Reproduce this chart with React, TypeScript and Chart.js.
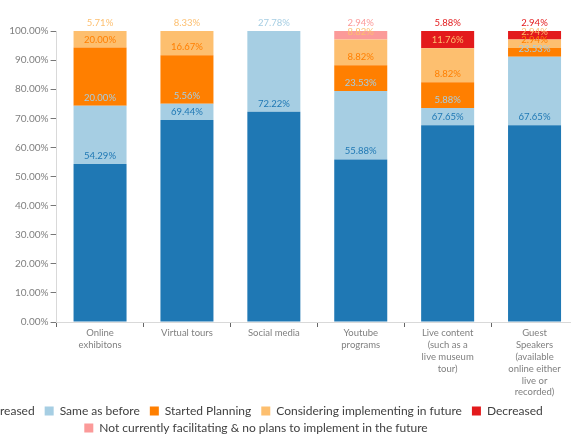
import React, { useEffect, useRef } from "react";
import { Chart, registerables } from "chart.js";

Chart.register(...registerables);

const categories: (string | string[])[] = [
  ["Online", "exhibitons"],
  "Virtual tours",
  "Social media",
  ["Youtube", "programs"],
  ["Live content", "(such as a", "live museum", "tour)"],
  ["Guest", "Speakers", "(available", "online either", "live or", "recorded)"],
];

const seriesNames = [
  "Increased",
  "Same as before",
  "Started Planning",
  "Considering implementing in future",
  "Decreased",
  "Not currently facilitating & no plans to implement in the future",
];

const increased = [54.29, 69.44, 72.22, 55.88, 67.65, 67.65];
const sameAsBefore = [20.0, 5.56, 27.78, 23.53, 5.88, 23.53];
const startedPlanning = [20.0, 16.67, 0, 8.82, 8.82, 2.94];
const considering = [5.71, 8.33, 0, 8.82, 11.76, 2.94];
const decreased = [0, 0, 0, 0, 5.88, 2.94];
const notCurrently = [0, 0, 0, 2.94, 0, 0];

const seriesValues = [increased, sameAsBefore, startedPlanning, considering, decreased, notCurrently];
const seriesColors = ["#1f78b4", "#a6cee3", "#ff7f00", "#fdbf6f", "#e31a1c", "#fb9a99"];

const yTickValues = [0, 10, 20, 30, 40, 50, 60, 70, 80, 90, 100];

const FONT = "Lato, 'Open Sans', sans-serif";

// value labels just above the top of each segment, in the series colour
const valueLabels = {
  id: "valueLabels",
  afterDatasetsDraw(chart: any) {
    const ctx = chart.ctx;
    ctx.save();
    ctx.font = `9.5px ${FONT}`;
    ctx.textAlign = "center";
    ctx.textBaseline = "middle";
    chart.data.datasets.forEach((ds: any, i: number) => {
      const meta = chart.getDatasetMeta(i);
      meta.data.forEach((bar: any, j: number) => {
        const v = ds.data[j];
        if (!v) return;
        ctx.fillStyle = ds.backgroundColor;
        ctx.fillText(`${v.toFixed(2)}%`, bar.x, bar.y - 8);
      });
    });
    ctx.restore();
  },
};

const bottomLegend = {
  id: "bottomLegend",
  afterDraw(chart: any) {
    const ctx = chart.ctx;
    const fontSize = 12;
    const box = 9;
    const gapText = 6;
    const gapItem = 10;
    ctx.save();
    ctx.font = `${fontSize}px ${FONT}`;
    const items = chart.data.datasets.map((ds: any) => ({
      text: ds.label,
      color: ds.backgroundColor,
      w: box + gapText + ctx.measureText(ds.label).width,
    }));
    const maxW = chart.width;
    const rows: any[][] = [[]];
    let cur = 0;
    items.forEach((it: any) => {
      const add = (rows[rows.length - 1].length ? gapItem : 0) + it.w;
      if (cur + add > maxW && rows[rows.length - 1].length) {
        rows.push([it]);
        cur = it.w;
      } else {
        rows[rows.length - 1].push(it);
        cur += add;
      }
    });
    const rowYs = [chart.height - 27, chart.height - 10];
    ctx.textBaseline = "middle";
    ctx.textAlign = "left";
    rows.forEach((row, r) => {
      const total = row.reduce((s, it) => s + it.w, 0) + gapItem * (row.length - 1);
      let x = chart.width / 2 - total / 2;
      const y = rowYs[r] ?? rowYs[rowYs.length - 1] + 17 * (r - 1);
      row.forEach((it) => {
        ctx.fillStyle = it.color;
        ctx.fillRect(x, y - box / 2, box, box);
        ctx.fillStyle = "#404040";
        ctx.fillText(it.text, x + box + gapText, y + 0.5);
        x += it.w + gapItem;
      });
    });
    ctx.restore();
  },
};

export default function App() {
  const canvasRef = useRef<HTMLCanvasElement | null>(null);

  useEffect(() => {
    if (!canvasRef.current) return;
    const chart = new Chart(canvasRef.current, {
      type: "bar",
      data: {
        labels: categories,
        datasets: seriesNames.map((name, i) => ({
          label: name,
          data: seriesValues[i],
          backgroundColor: seriesColors[i],
          borderWidth: 0,
          barPercentage: 0.61,
          categoryPercentage: 1,
        })),
      },
      options: {
        responsive: false,
        animation: false,
        layout: { padding: { left: 72.6, right: 2, top: 31, bottom: 36 } },
        plugins: {
          legend: { display: false },
          tooltip: { enabled: false },
        },
        scales: {
          x: {
            stacked: true,
            afterFit: (axis: any) => {
              axis.height = 80;
            },
            border: { color: "#d9d9d9" },
            grid: {
              offset: true,
              drawOnChartArea: false,
              drawTicks: true,
              tickLength: 5,
              tickColor: "#666666",
            },
            ticks: {
              autoSkip: false,
              maxRotation: 0,
              padding: 0,
              color: "#808080",
              font: { family: FONT, size: 9.5, lineHeight: 1.25 },
            },
          },
          y: {
            stacked: true,
            min: 0,
            max: 100,
            afterFit: (axis: any) => {
              axis.width = 52;
            },
            afterBuildTicks: (axis: any) => {
              axis.ticks = yTickValues.map((v) => ({ value: v }));
            },
            border: { color: "#d9d9d9" },
            grid: {
              drawOnChartArea: false,
              drawTicks: true,
              tickLength: 6,
              tickColor: "#777777",
            },
            ticks: {
              padding: 2,
              color: "#808080",
              font: { family: FONT, size: 10 },
              callback: (v: any) => `${Number(v).toFixed(2)}%`,
            },
          },
        },
      },
      plugins: [valueLabels, bottomLegend],
    });
    return () => chart.destroy();
  }, []);

  return (
    <div style={{ position: "fixed", left: 0, top: 0, width: 571, height: 438, overflow: "hidden", background: "#fff" }}>
      <canvas ref={canvasRef} width={648} height={438} style={{ position: "absolute", left: -68, top: 0 }} />
    </div>
  );
}
